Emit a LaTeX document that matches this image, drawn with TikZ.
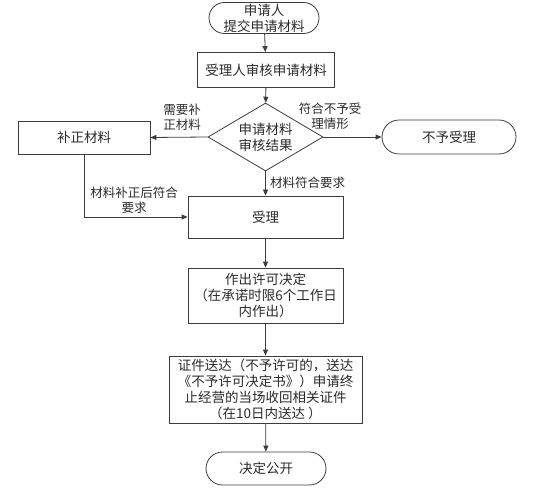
\documentclass[tikz,border=0pt]{standalone}
\usepackage{fontspec}
\setmainfont{Noto Sans CJK SC}
\usetikzlibrary{arrows.meta,shapes.geometric,shapes.misc}
\definecolor{fLine}{HTML}{3C3C3C}
\definecolor{fText}{HTML}{2A2A2A}
\begin{document}
\begin{tikzpicture}[x=1pt,y=-1pt,
    every node/.style={text=fText, font=\fontsize{13.5}{16}\selectfont, align=center, inner sep=1pt},
    procbox/.style={draw=fLine, line width=0.8pt, rectangle},
    termbox/.style={draw=fLine, line width=0.8pt, rounded rectangle},
    judgebox/.style={draw=fLine, line width=0.8pt, diamond, aspect=1.7, inner sep=0pt},
    lbl/.style={font=\fontsize{12.5}{15}\selectfont},
    arr/.style={draw=fLine, line width=0.8pt, -{Triangle[length=6pt,width=5pt]}}]
  \useasboundingbox (0,0) rectangle (543,497);
  % main column
  \node[termbox, minimum width=112pt, minimum height=31pt] (apply) at (264,18) {申请人\\提交申请材料};
  \node[procbox, minimum width=137pt, minimum height=35pt] (review) at (266,70) {受理人审核申请材料};
  \node[judgebox, minimum width=115pt, minimum height=68pt] (check) at (265.5,137) {申请材料\\审核结果};
  \node[procbox, minimum width=155pt, minimum height=42pt] (accept) at (265.5,217) {受理};
  \node[procbox, minimum width=155pt, minimum height=55pt] (decide) at (265.5,295.5) {作出许可决定\\（在承诺时限6个工作日\\内作出）};
  \node[procbox, minimum width=193pt, minimum height=67pt] (deliver) at (265.5,389.5) {证件送达（不予许可的，送达\\《不予许可决定书》）申请终\\止经营的当场收回相关证件\\（在10日内送达 ）};
  \node[termbox, minimum width=122pt, minimum height=33pt] (publish) at (266,468.5) {决定公开};
  % side branches
  \node[procbox, minimum width=132pt, minimum height=33pt] (fix) at (84,137.5) {补正材料};
  \node[termbox, minimum width=136pt, minimum height=34pt] (reject) at (449,137) {不予受理};
  % connectors
  \draw[arr] (apply) -- (review);
  \draw[arr] (review) -- (check);
  \draw[arr] (check.west) -- (fix.east);
  \draw[arr] (check.east) -- (reject.west);
  \draw[arr] (check.south) -- (accept.north);
  \draw[arr] (fix.south) |- (accept.west);
  \draw[arr] (accept) -- (decide);
  \draw[arr] (decide) -- (deliver);
  \draw[arr] (deliver) -- (publish);
  % labels
  \node[lbl] (needfix) at (182,117) {需要补\\正材料};
  \node[lbl] (notaccept) at (330,116) {符合不予受\\理情形};
  \node[lbl, anchor=west] (meets) at (269,183) {材料符合要求};
  \node[lbl] (fixedok) at (134,200) {材料补正后符合\\要求};
\end{tikzpicture}
\end{document}
